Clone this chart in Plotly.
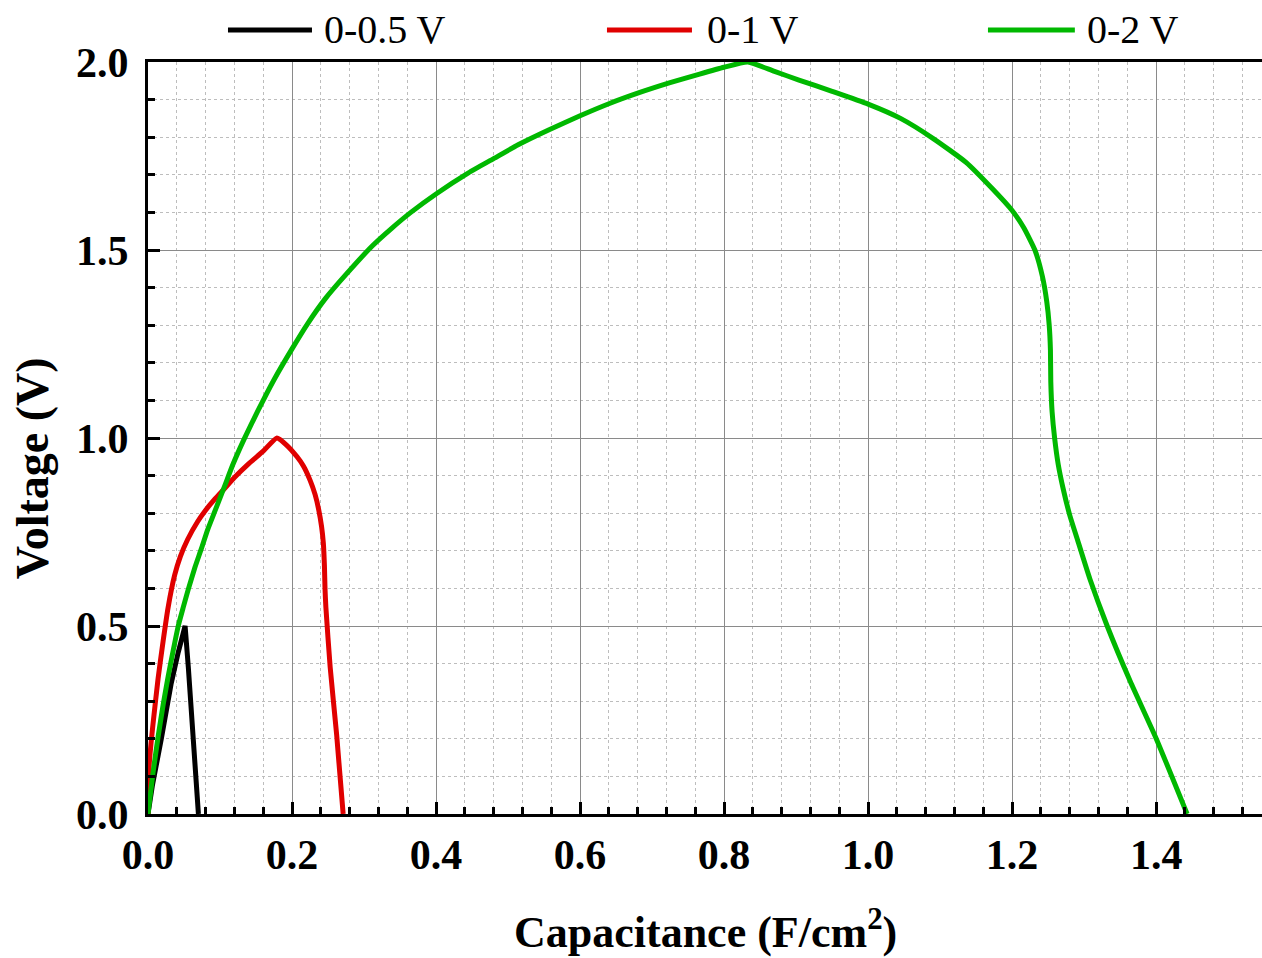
import plotly.graph_objects as go

# ---- data ----
series_names = ["0-0.5 V", "0-1 V", "0-2 V"]
series_colors = ["#000000", "#e00000", "#00b800"]
series_shapes = ["linear", "spline", "spline"]

black_x = [0, 0.006, 0.0185, 0.032, 0.042, 0.0515, 0.056, 0.060, 0.0645, 0.070]
black_y = [0, 0.075, 0.20, 0.345, 0.43, 0.50, 0.39, 0.27, 0.15, 0.0]

red_x = [0, 0.0005, 0.002, 0.007, 0.014, 0.021, 0.028, 0.037, 0.045, 0.055,
         0.069, 0.08, 0.093, 0.106, 0.12, 0.14, 0.16, 0.179,
         0.192, 0.207, 0.216, 0.225, 0.232, 0.237, 0.241, 0.2435, 0.245,
         0.2458, 0.247, 0.253, 0.262, 0.271]
red_y = [0, 0.08, 0.14, 0.24, 0.36, 0.46, 0.55, 0.635, 0.685, 0.73,
         0.778, 0.808, 0.838, 0.865, 0.895, 0.932, 0.965, 1.0,
         0.982, 0.95, 0.925, 0.888, 0.85, 0.81, 0.765, 0.72, 0.66,
         0.60, 0.55, 0.39, 0.21, 0.0]

green_x = [0, 0.007, 0.014, 0.021, 0.028, 0.035, 0.042, 0.049, 0.056, 0.065,
           0.074, 0.083, 0.093, 0.106, 0.118, 0.133, 0.152, 0.175, 0.2, 0.222,
           0.246, 0.275, 0.311, 0.338, 0.365, 0.4, 0.445, 0.48, 0.514, 0.557,
           0.6, 0.64, 0.683, 0.725, 0.766, 0.8, 0.833,
           0.87, 0.904, 0.95, 1.0, 1.045, 1.09, 1.136, 1.173, 1.2, 1.216,
           1.2316, 1.242, 1.248, 1.2515, 1.2532, 1.2537, 1.2555, 1.259, 1.264,
           1.271, 1.28, 1.29, 1.308, 1.332, 1.364, 1.4, 1.443]
green_y = [0, 0.11, 0.205, 0.29, 0.366, 0.435, 0.5, 0.55, 0.598, 0.655,
           0.705, 0.757, 0.806, 0.87, 0.93, 0.995, 1.07, 1.155, 1.237, 1.305,
           1.37, 1.435, 1.51, 1.557, 1.60, 1.649, 1.705, 1.743, 1.78, 1.82,
           1.857, 1.889, 1.919, 1.945, 1.968, 1.986, 2.0,
           1.975, 1.952, 1.922, 1.888, 1.85, 1.797, 1.733, 1.662, 1.605, 1.56,
           1.5, 1.43, 1.364, 1.30, 1.234, 1.15, 1.07, 1.0, 0.93,
           0.864, 0.795, 0.734, 0.625, 0.5, 0.353, 0.201, 0.0]

series_x = [black_x, red_x, green_x]
series_y = [black_y, red_y, green_y]

x_title = "Capacitance (F/cm<sup>2</sup>)"
y_title = "Voltage (V)"

FONT = "Liberation Serif, Times New Roman, serif"

fig = go.Figure()
for name, color, shape, xs, ys in zip(series_names, series_colors, series_shapes,
                                      series_x, series_y):
    line = dict(color=color, width=5, shape=shape)
    if shape == "spline":
        line["smoothing"] = 0.5
    fig.add_trace(go.Scatter(x=xs, y=ys, mode="lines", name=name,
                             line=line, showlegend=False))

# manual legend (long sample lines like the reference)
leg_line_x = [(0.0718, 0.1472), (0.412, 0.4883), (0.754, 0.832)]
leg_text_x = [0.1562, 0.5, 0.8411]
leg_y = 1.0426
for name, color, (x0, x1), tx in zip(series_names, series_colors, leg_line_x, leg_text_x):
    fig.add_shape(type="line", xref="paper", yref="paper", x0=x0, x1=x1,
                  y0=leg_y, y1=leg_y, line=dict(color=color, width=5))
    fig.add_annotation(xref="paper", yref="paper", x=tx, y=leg_y, text=name,
                       showarrow=False, xanchor="left", yanchor="middle",
                       font=dict(family=FONT, size=40, color="black"))

fig.add_annotation(xref="paper", yref="paper", x=-0.104, y=0.46, text=y_title,
                   textangle=-90, showarrow=False, xanchor="center", yanchor="middle",
                   font=dict(family=FONT, size=46, color="black", weight="bold"))
fig.add_annotation(xref="paper", yref="paper", x=0.5, y=-0.153, text=x_title,
                   showarrow=False, xanchor="center", yanchor="middle",
                   font=dict(family=FONT, size=44, color="black", weight="bold"))

axis_common = dict(
    showline=True, linecolor="black", linewidth=3,
    ticks="inside", ticklen=12, tickwidth=2.5, tickcolor="black",
    showgrid=True, gridcolor="#8a8a8a", gridwidth=1,
    zeroline=False, tickformat=".1f",
    tickfont=dict(family=FONT, size=42, color="black", weight="bold"),
)

fig.update_xaxes(range=[0, 1.547], tick0=0, dtick=0.2, ticklabelstandoff=2, mirror=True,
                 minor=dict(dtick=0.04, tick0=0, ticks="inside", ticklen=7, tickwidth=2.5,
                            tickcolor="black", showgrid=True, gridcolor="#bdbdbd",
                            griddash="3px,3px", gridwidth=1),
                 **axis_common)
fig.update_yaxes(range=[0, 2.0], tick0=0, dtick=0.5, ticklabelstandoff=8, mirror=False,
                 minor=dict(dtick=0.1, tick0=0, ticks="inside", ticklen=7, tickwidth=2.5,
                            tickcolor="black", showgrid=True, gridcolor="#bdbdbd",
                            griddash="3px,3px", gridwidth=1),
                 **axis_common)

fig.update_layout(width=1262, height=958,
                  margin=dict(l=148, r=0, t=62, b=144, autoexpand=False),
                  plot_bgcolor="white", paper_bgcolor="white",
                  font=dict(family=FONT))

fig.write_html("out.html")
